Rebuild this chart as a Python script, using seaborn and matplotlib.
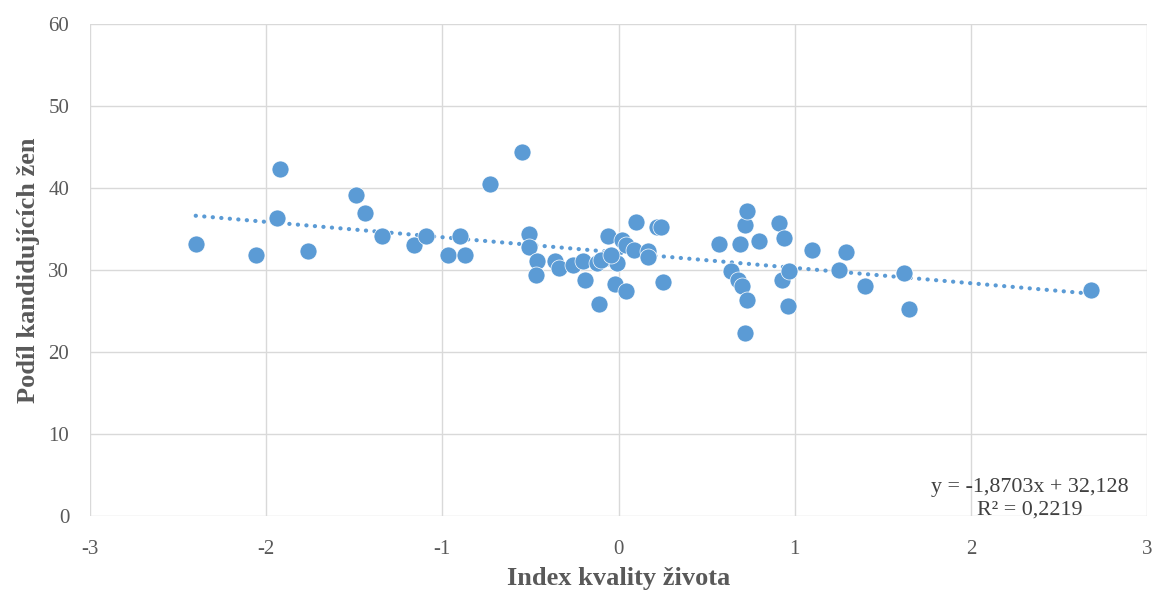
import numpy as np
import pandas as pd
import matplotlib
matplotlib.use("Agg")
import matplotlib.pyplot as plt
import seaborn as sns

# --- data ---
index_kvality = [
    -2.40, -2.06, -1.94, -1.92, -1.76, -1.49, -1.44, -1.34, -1.16, -1.09,
    -0.97, -0.90, -0.87, -0.73, -0.55, -0.51, -0.51, -0.46, -0.47, -0.36,
    -0.34, -0.26, -0.20, -0.19, -0.12, -0.11, -0.07, -0.06, -0.01, -0.02,
    0.02, 0.04, 0.04, 0.09, 0.10, 0.17, 0.165, 0.22, 0.24, 0.25,
    0.57, 0.64, 0.69, 0.68, 0.70, 0.72, 0.72, 0.73, 0.73, 0.80,
    0.91, 0.94, 0.93, 0.97, 0.96, 1.10, 1.25, 1.29, 1.40, 1.62,
    1.65, 2.68, -0.10, -0.04,
]
podil_zen = [
    33.2, 31.8, 36.4, 42.3, 32.3, 39.2, 36.9, 34.1, 33.1, 34.2,
    31.8, 34.1, 31.8, 40.5, 44.4, 34.4, 32.8, 31.1, 29.4, 31.1,
    30.2, 30.6, 31.1, 28.8, 30.8, 25.8, 31.5, 34.2, 30.9, 28.3,
    33.6, 33.1, 27.4, 32.4, 35.8, 32.3, 31.6, 35.3, 35.3, 28.5,
    33.2, 29.9, 33.2, 28.8, 28.0, 22.3, 35.5, 37.2, 26.4, 33.5,
    35.7, 33.9, 28.8, 29.9, 25.6, 32.5, 30.0, 32.2, 28.1, 29.6,
    25.3, 27.6, 31.2, 31.8,
]
trend_slope = -1.8703
trend_intercept = 32.128
trend_label = "y = -1,8703x + 32,128\nR² = 0,2219"
x_label = "Index kvality života"
y_label = "Podíl kandidujících žen"
x_ticks = [-3, -2, -1, 0, 1, 2, 3]
y_ticks = [0, 10, 20, 30, 40, 50, 60]

df = pd.DataFrame({"x": index_kvality, "y": podil_zen})

sns.set_theme(style="white")
plt.rcParams["font.family"] = ["Liberation Serif", "DejaVu Serif"]
plt.rcParams["axes.unicode_minus"] = False

blue = "#5B9BD5"
grid_c = "#D9D9D9"
text_c = "#595959"

fig = plt.figure(figsize=(11.56, 5.93), dpi=100)
ax = fig.add_axes([90 / 1156, (593 - 516) / 593, (1147 - 90) / 1156, (516 - 24) / 593])

ax.set_xlim(-3, 3)
ax.set_ylim(0, 60)
ax.set_xticks(x_ticks)
ax.set_yticks(y_ticks)
ax.grid(True, color=grid_c, linewidth=1.0, zorder=0)
for s in ax.spines.values():
    s.set_visible(False)
ax.set_axisbelow(True)

# trendline over data range
xs = np.array([df["x"].min(), df["x"].max()])
ax.plot(xs, trend_slope * xs + trend_intercept, linestyle=(0, (0.05, 2.0)),
        color=blue, linewidth=3.0, dash_capstyle="round", solid_capstyle="round", zorder=2)

sns.scatterplot(data=df, x="x", y="y", ax=ax, color=blue, s=150,
                edgecolor="white", linewidth=0.5, zorder=3)

ax.tick_params(axis="y", length=0, labelsize=15, colors=text_c, pad=15)
ax.tick_params(axis="x", length=0, labelsize=15, colors=text_c, pad=17)
ax.set_xlabel(x_label, fontsize=19, fontweight="bold", color=text_c, labelpad=6)
ax.set_ylabel(y_label, fontsize=19, fontweight="bold", color=text_c, labelpad=6)

ax.text(2.333, -0.4, trend_label, fontsize=15.8, color="#404040",
        ha="center", va="bottom", multialignment="center", linespacing=1.2)

fig.savefig("out.png", dpi=100)
